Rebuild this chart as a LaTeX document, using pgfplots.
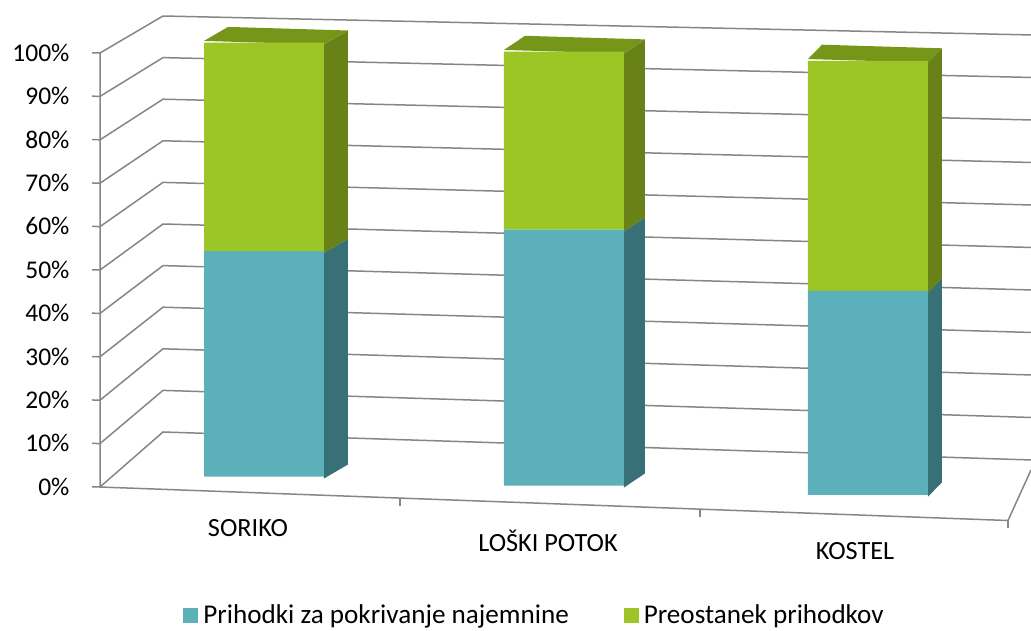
\documentclass[border=0pt]{standalone}
\usepackage{pgfplots}
\pgfplotsset{compat=1.18}
\usepackage{fontspec}
\setmainfont{Carlito}

\definecolor{tealfront}{RGB}{91,176,186}
\definecolor{tealside}{RGB}{56,112,119}
\definecolor{greenfront}{RGB}{155,198,37}
\definecolor{greenside}{RGB}{104,130,23}
\definecolor{greentop}{RGB}{118,150,26}
\definecolor{gridgray}{RGB}{134,134,134}

% shares in percent, bars at x positions measured in reference pixels
\pgfplotstableread{
x   rent rest
264 52   48
564 59   41
868 47   53
}\incomedata

% 1 px of the reference = 0.4pt; the floor drops 0.03 px per px to the right
\pgfplotsset{
  pseudo3d/.style={
    x={(0.4pt,-0.012pt)}, y={(0pt,1.736pt)},
    xmin=100, xmax=1031, ymin=-3.5, ymax=100,
    clip=false,
    axis line style={draw=none},
  },
}

\begin{document}
\begin{tikzpicture}[font=\fontsize{10.5}{12}\selectfont]
\begin{axis}[pseudo3d,
  xtick=\empty,
  ytick={-3.5,6.5,16.5,26.5,36.5,46.5,56.5,66.5,76.5,86.5,96.5},
  yticklabels={0\%,10\%,20\%,30\%,40\%,50\%,60\%,70\%,80\%,90\%,100\%},
  ytick pos=left,
  tick align=outside,
  major tick length=3.2pt,
  tick style={gridgray, line width=0.6pt},
  yticklabel style={anchor=east, xshift=-5.5pt, font=\fontsize{10.2}{12}\selectfont},
]
  % side wall and back wall lines
  \pgfplotsinvokeforeach{0,1,2,3,4,5,6,7,8,9,10}{
    \draw[gridgray, line width=0.6pt] (axis cs:100,{-3.5+10*#1}) -- (axis cs:163,{9.61+9.585*#1}) -- (axis cs:1031,{9.16+9.793*#1});
  }
  % value axis and floor
  \draw[gridgray, line width=0.6pt] (axis cs:100,96.5) -- (axis cs:100,-3.5) -- (axis cs:1008,-4.95) -- (axis cs:1031,6.85);
  \draw[gridgray, line width=0.6pt] (axis cs:400,-3.96) -- (axis cs:400,-5.8);
  \draw[gridgray, line width=0.6pt] (axis cs:700,-4.4) -- (axis cs:700,-6.24);
  \draw[gridgray, line width=0.6pt] (axis cs:1008,-4.95) -- (axis cs:1008,-6.6);

  % depth faces of the bars
  \addplot[fill=tealside, draw=none] coordinates {(324,0) (348,3.4) (348,55.4) (324,52)} --cycle;
  \addplot[fill=greenside, draw=none] coordinates {(324,52) (348,55.4) (348,103.4) (324,100)} --cycle;
  \addplot[fill=greentop, draw=none] coordinates {(204,100) (324,100) (348,103.4) (228,103.4)} --cycle;

  \addplot[fill=tealside, draw=none] coordinates {(624,0) (645,3.4) (645,62.4) (624,59)} --cycle;
  \addplot[fill=greenside, draw=none] coordinates {(624,59) (645,62.4) (645,103.4) (624,100)} --cycle;
  \addplot[fill=greentop, draw=none] coordinates {(504,100) (624,100) (645,103.4) (525,103.4)} --cycle;

  \addplot[fill=tealside, draw=none] coordinates {(928,0) (942,3.4) (942,50.4) (928,47)} --cycle;
  \addplot[fill=greenside, draw=none] coordinates {(928,47) (942,50.4) (942,103.4) (928,100)} --cycle;
  \addplot[fill=greentop, draw=none] coordinates {(808,100) (928,100) (942,103.4) (822,103.4)} --cycle;

  % category names
  \node at (axis cs:248,-11.91) {SORIKO};
  \node at (axis cs:548,-12.83) {LOŠKI POTOK};
  \node at (axis cs:855,-13.03) {KOSTEL};

  \coordinate (O) at (axis cs:100,-3.5);
\end{axis}

\begin{axis}[pseudo3d,
  hide axis,
  ybar stacked,
  bar width=120,
  legend columns=2,
  legend style={at={(axis cs:536,-30.2)}, anchor=center, draw=none, fill=none,
    font=\fontsize{10.85}{12}\selectfont,
    /tikz/every even column/.append style={column sep=20pt}},
  legend image code/.code={\fill[#1] (0pt,-3pt) rectangle (6pt,3pt);},
]
  \addplot[fill=tealfront, draw=none] table[x=x, y=rent] {\incomedata};
  \addplot[fill=greenfront, draw=none] table[x=x, y=rest] {\incomedata};
  \legend{Prihodki za pokrivanje najemnine, Preostanek prihodkov}
\end{axis}

\pgfresetboundingbox
\path[use as bounding box] ([shift={(-40pt,-57.2pt)}]O) rectangle ([shift={(372.4pt,194.8pt)}]O);
\end{tikzpicture}
\end{document}
